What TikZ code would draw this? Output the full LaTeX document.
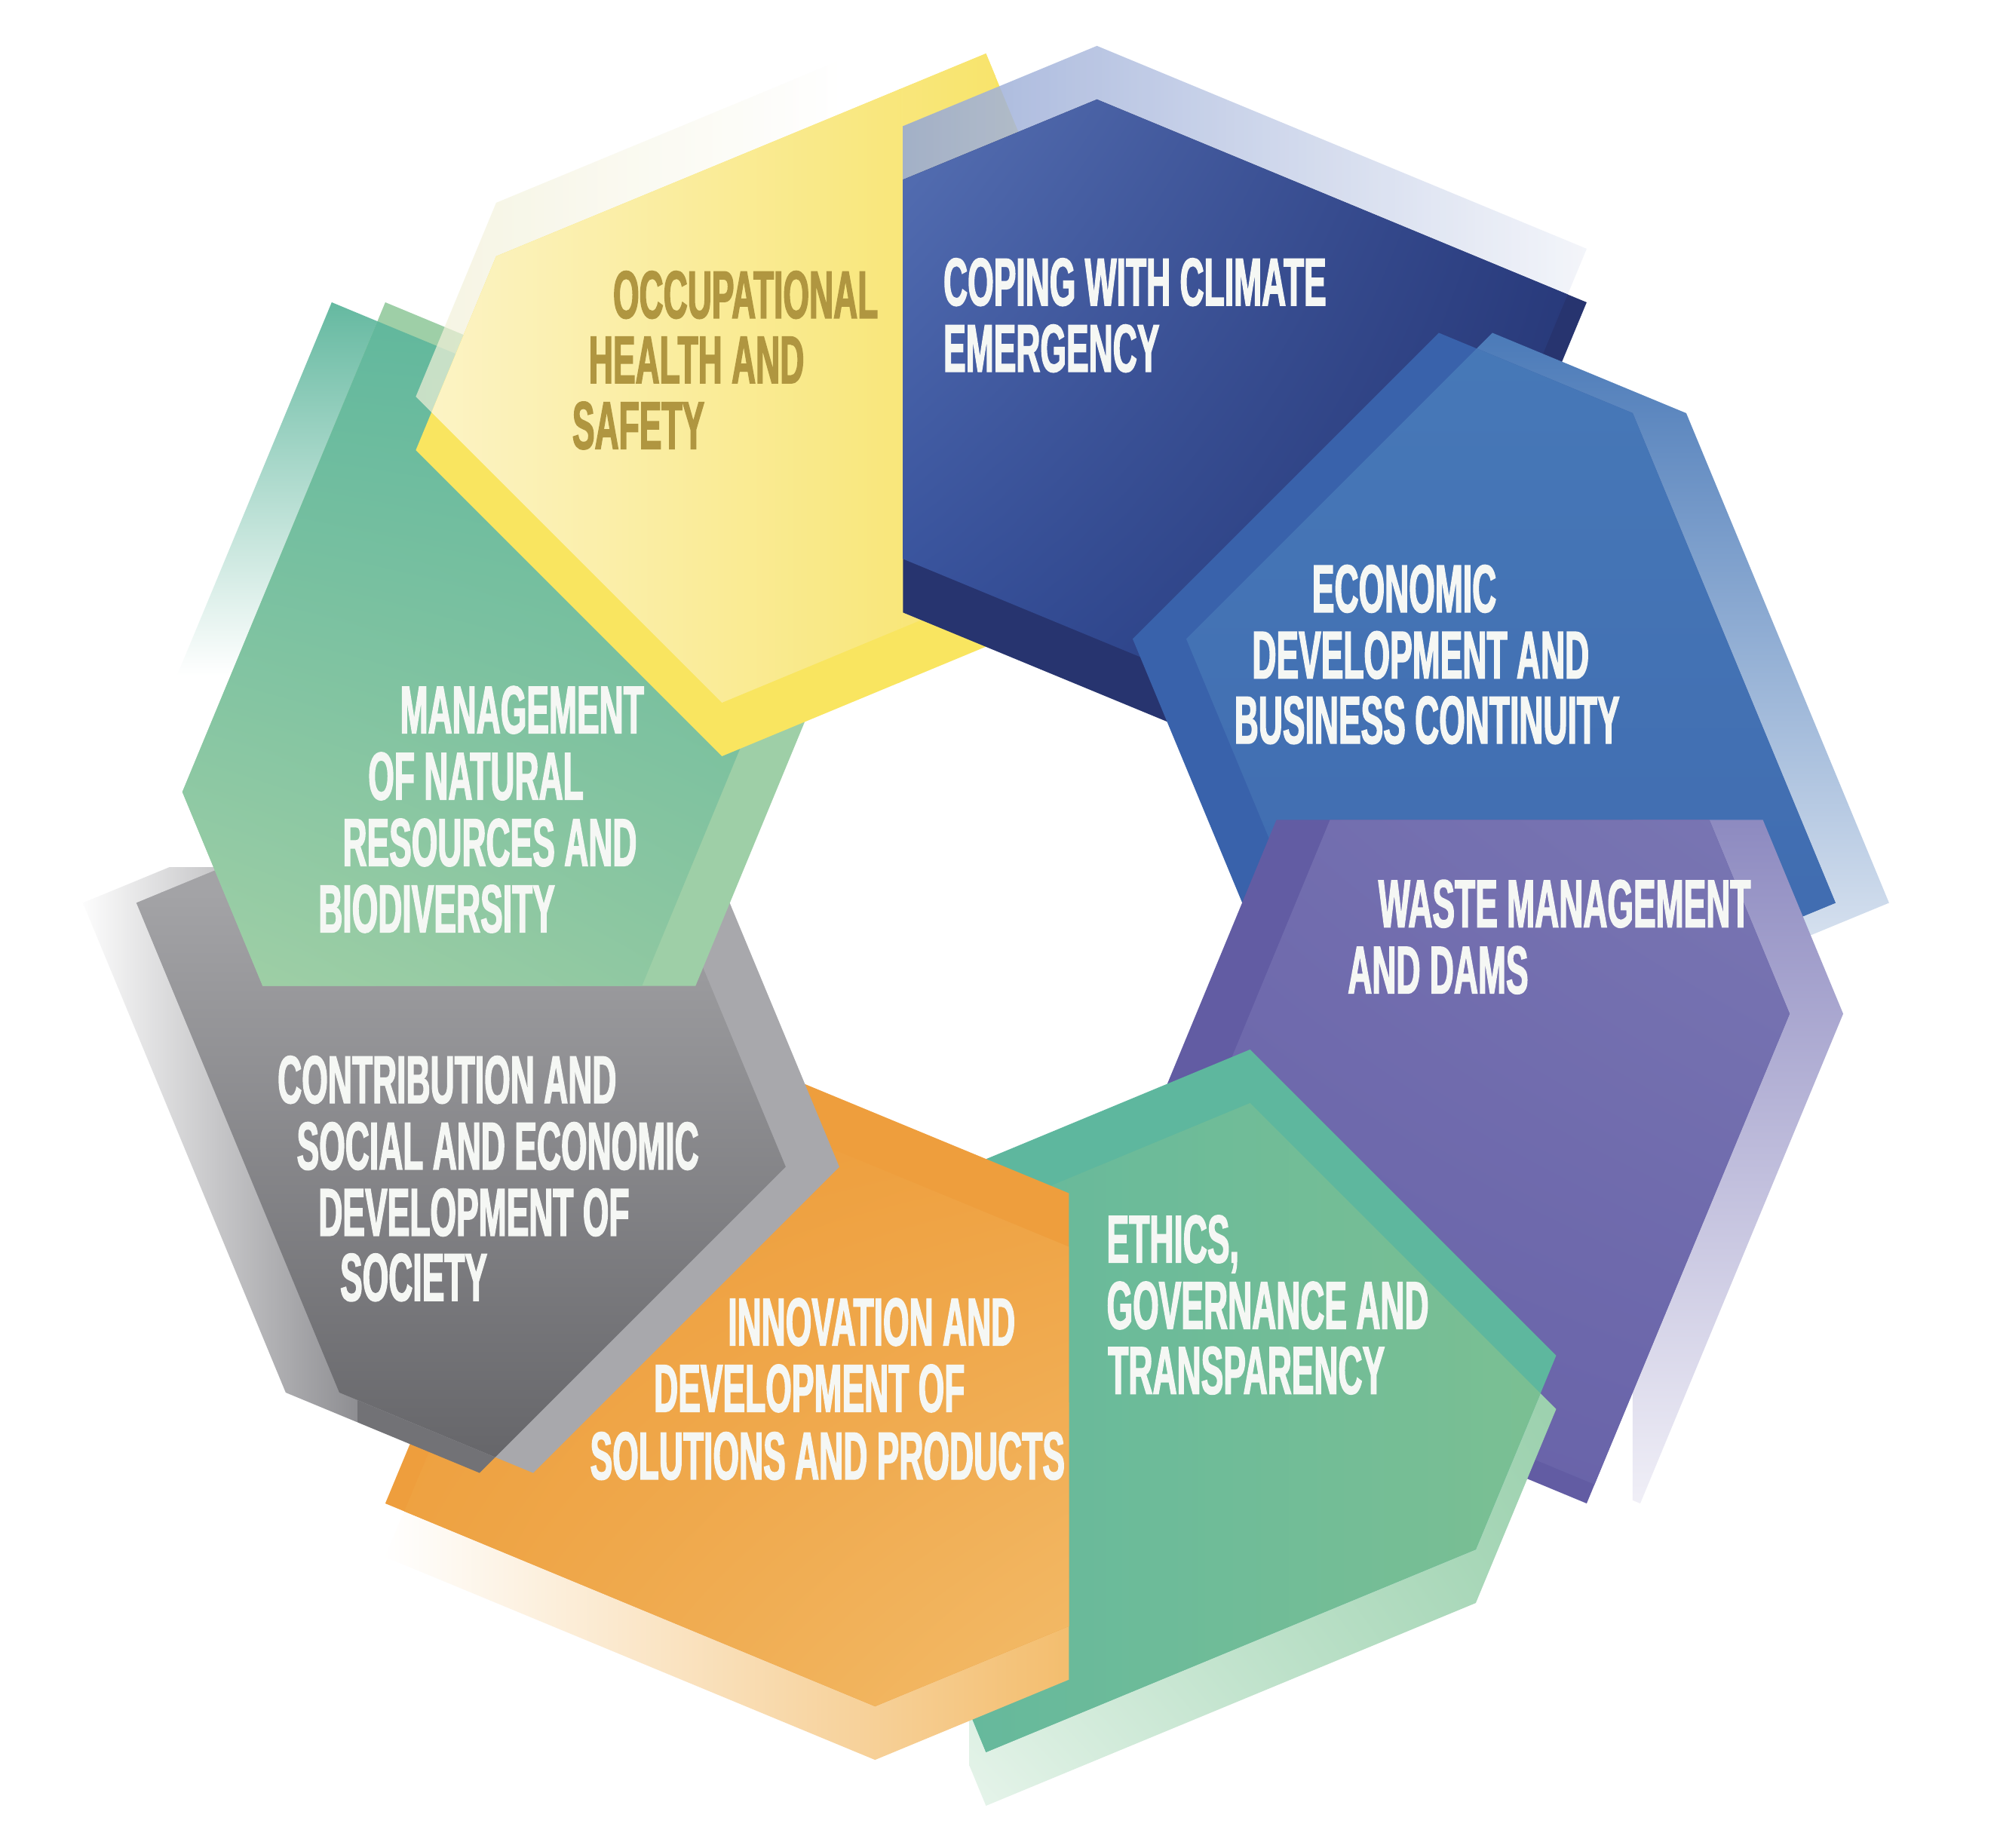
\documentclass[tikz,border=0pt]{standalone}
\usepackage{fontspec}
\usetikzlibrary{shadings}
\newfontfamily\cond[FakeStretch=0.495, BoldFeatures={FakeBold=1.5}]{Liberation Sans}
\definecolor{yelFront}{HTML}{F9E560}
\definecolor{yelCreamL}{HTML}{FCF4C8}
\definecolor{yelCreamR}{HTML}{F8E46C}
\definecolor{yelPale}{HTML}{F1EFD3}
\definecolor{copFront}{HTML}{27346F}
\definecolor{copBand}{HTML}{93A6D4}
\definecolor{copUL}{HTML}{5B75B7}
\definecolor{copUR}{HTML}{283B80}
\definecolor{copLL}{HTML}{2C4794}
\definecolor{copLR}{HTML}{24316A}
\definecolor{ecoFront}{HTML}{3962AB}
\definecolor{ecoBand}{HTML}{4878B7}
\definecolor{ecoTop}{HTML}{4779B8}
\definecolor{ecoBot}{HTML}{3E68AE}
\definecolor{purFront}{HTML}{625CA3}
\definecolor{purBand}{HTML}{8B88BF}
\definecolor{purBandB}{HTML}{F4F3F9}
\definecolor{purUL}{HTML}{6F6AAD}
\definecolor{purUR}{HTML}{7C79B4}
\definecolor{purLL}{HTML}{6660A7}
\definecolor{purLR}{HTML}{6A65AA}
\definecolor{ethFront}{HTML}{5EB79E}
\definecolor{ethL}{HTML}{66B99C}
\definecolor{ethR}{HTML}{7DC092}
\definecolor{ethBUR}{HTML}{97CEAA}
\definecolor{ethBLR}{HTML}{A6D7B7}
\definecolor{ethBUL}{HTML}{B8DFC5}
\definecolor{ethBLL}{HTML}{E8F5EC}
\definecolor{oraFront}{HTML}{EE9E3D}
\definecolor{oraBand}{HTML}{F3BC6B}
\definecolor{oraUL}{HTML}{ED9C3A}
\definecolor{oraUR}{HTML}{EE9E3C}
\definecolor{oraLL}{HTML}{EEA444}
\definecolor{oraLR}{HTML}{F4C172}
\definecolor{gryFront}{HTML}{A8A8AC}
\definecolor{gryBand}{HTML}{8E8E92}
\definecolor{gryDark}{HTML}{727276}
\definecolor{gryTop}{HTML}{A3A3A6}
\definecolor{gryBot}{HTML}{616165}
\definecolor{mgmFront}{HTML}{9ECFA7}
\definecolor{mgmBand}{HTML}{5CB59B}
\definecolor{mgmUL}{HTML}{5FB79D}
\definecolor{mgmUR}{HTML}{5EB69C}
\definecolor{mgmLL}{HTML}{A4D1A7}
\definecolor{mgmLR}{HTML}{86C49F}
\definecolor{txtWhite}{HTML}{F5F7F4}
\definecolor{txtGold}{HTML}{B09640}
\def\pent{(-4.47,3.55) -- (-3.84,5.07) -- (0,6.66) -- (1.64,2.69) -- (-2.07,1.15) -- cycle}
% #1 rotation, #2 copy shift, #3 band code, #4 front colour, #5 overlap code
\newcommand\ringshape[5]{%
  \begin{scope}
    \clip[shift={#2}, shift={(7.73,-7.08)}, rotate=#1] \pent;
    #3
  \end{scope}
  \fill[#4, shift={(7.73,-7.08)}, rotate=#1] \pent;
  \begin{scope}
    \clip[shift={(7.73,-7.08)}, rotate=#1] \pent;
    \clip[shift={#2}, shift={(7.73,-7.08)}, rotate=#1] \pent;
    #5
  \end{scope}
}
\newcommand\yellowshape{%
  \ringshape{0}{(0,0.42)}
    {\shade[left color=yelPale, right color=white, fill opacity=0.7] (3.0,0.5) rectangle (6.6,-4.5);}
    {yelFront}
    {\shade[left color=yelCreamL, right color=yelCreamR] (3.2,0.5) rectangle (7.8,-6.2);}%
}
\begin{document}
\begin{tikzpicture}[
  lbl/.style={anchor=base west, inner sep=0pt, font=\cond\bfseries\fontsize{15.1}{15}\selectfont, text=txtWhite},
  glbl/.style={lbl, text=txtGold}]
\useasboundingbox (0,0) rectangle (15.68,-14.49);
\fill[white] (0,0) rectangle (15.68,-14.49);

% yellow, part under the blue shape
\begin{scope}
  \clip (7.04,1) rectangle (16,-15);
  \yellowshape
\end{scope}

% coping with climate emergency
\ringshape{-45}{(0,0.42)}
  {\shade[left color=copBand, right color=white, fill opacity=0.85] (7.0,0.5) rectangle (13.2,-3.0);}
  {copFront}
  {\shade[upper left=copUL, upper right=copUR, lower left=copLL, lower right=copLR] (7.0,-0.3) rectangle (12.6,-6.2);}

% economic development
\ringshape{-90}{(0.42,0)}
  {\shade[top color=ecoBand, bottom color=white] (10.5,-2.5) rectangle (15.2,-8.8);}
  {ecoFront}
  {\shade[top color=ecoTop, bottom color=ecoBot] (8.5,-2.4) rectangle (15.2,-9.0);}

% waste management
\ringshape{-135}{(0.42,0)}
  {\shade[top color=purBand, bottom color=purBandB] (12.8,-6.3) rectangle (15.2,-12.0);}
  {purFront}
  {\shade[upper left=purUL, upper right=purUR, lower left=purLL, lower right=purLR] (8.3,-6.3) rectangle (15.2,-12.0);}

% ethics
\ringshape{-180}{(0,-0.42)}
  {\shade[upper left=ethBUL, upper right=ethBUR, lower left=ethBLL, lower right=ethBLR] (7.6,-10.5) rectangle (12.6,-14.3);}
  {ethFront}
  {\shade[left color=ethL, right color=ethR] (7.6,-8.0) rectangle (12.6,-14.3);}

% innovation
\ringshape{-225}{(0,-0.42)}
  {\shade[left color=white, right color=oraBand] (3.0,-11.0) rectangle (8.5,-14.2);}
  {oraFront}
  {\shade[upper left=oraUL, upper right=oraUR, lower left=oraLL, lower right=oraLR] (2.9,-8.4) rectangle (8.5,-14.2);}

% contribution
\ringshape{-270}{(-0.42,0)}
  {\shade[left color=white, right color=gryBand] (0.6,-6.8) rectangle (2.8,-12.0);
   \fill[gryDark] (2.8,-10.4) rectangle (4.3,-11.8);}
  {gryFront}
  {\fill[gryTop] (0.5,-5.2) rectangle (7.0,-7.0);
   \shade[top color=gryTop, bottom color=gryBot] (0.5,-7.0) rectangle (7.0,-11.8);}

% management of natural resources
\ringshape{-315}{(-0.42,0)}
  {\shade[top color=mgmBand, bottom color=white] (0.8,-2.2) rectangle (3.2,-5.3);}
  {mgmFront}
  {\shade[upper left=mgmUL, upper right=mgmUR, lower left=mgmLL, lower right=mgmLR] (0.9,-2.2) rectangle (7.2,-7.8);}

% yellow, part over the green shape
\begin{scope}
  \clip (-1,1) rectangle (7.06,-15);
  \yellowshape
\end{scope}

% texts
\node[glbl] (y1) at (4.80,-2.495) {OCCUPATIONAL};
\node[glbl] (y2) at (4.61,-3.005) {HEALTH AND};
\node[glbl] (y3) at (4.48,-3.52) {SAFETY};

\node[lbl] (c1) at (7.39,-2.395) {COPING WITH CLIMATE};
\node[lbl] (c2) at (7.39,-2.915) {EMERGENCY};

\node[lbl] (e1) at (10.28,-4.80) {ECONOMIC};
\node[lbl] (e2) at (9.81,-5.32) {DEVELOPMENT AND};
\node[lbl] (e3) at (9.67,-5.83) {BUSINESS CONTINUITY};

\node[lbl] (w1) at (10.80,-7.27) {WASTE MANAGEMENT};
\node[lbl] (w2) at (10.56,-7.79) {AND DAMS};

\node[lbl] (g1) at (8.67,-9.90) {ETHICS,};
\node[lbl] (g2) at (8.67,-10.42) {GOVERNANCE AND};
\node[lbl] (g3) at (8.68,-10.93) {TRANSPARENCY};

\node[lbl] (i1) at (5.70,-10.55) {INNOVATION AND};
\node[lbl] (i2) at (5.12,-11.07) {DEVELOPMENT OF};
\node[lbl] (i3) at (4.62,-11.60) {SOLUTIONS AND PRODUCTS};

\node[lbl] (s1) at (2.17,-8.65) {CONTRIBUTION AND};
\node[lbl] (s2) at (2.32,-9.17) {SOCIAL AND ECONOMIC};
\node[lbl] (s3) at (2.49,-9.69) {DEVELOPMENT OF};
\node[lbl] (s4) at (2.66,-10.20) {SOCIETY};

\node[lbl] (m1) at (3.13,-5.75) {MANAGEMENT};
\node[lbl] (m2) at (2.88,-6.27) {OF NATURAL};
\node[lbl] (m3) at (2.68,-6.79) {RESOURCES AND};
\node[lbl] (m4) at (2.49,-7.31) {BIODIVERSITY};
\end{tikzpicture}
\end{document}
